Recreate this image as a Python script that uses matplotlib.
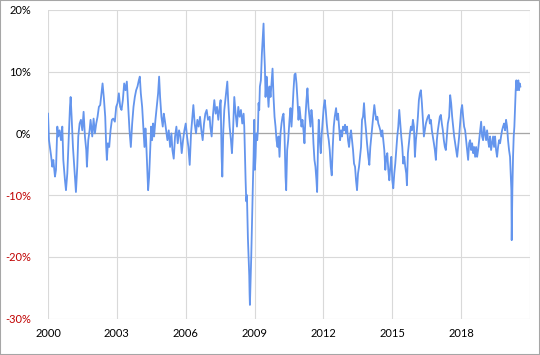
import matplotlib.pyplot as plt
from matplotlib.patches import Rectangle

# years since 2000 and the plotted percentage
t = [
    0.000, 0.043, 0.130, 0.188, 0.232, 0.304, 0.348, 0.406, 0.449, 0.507, 0.565, 0.623, 0.667, 0.739, 0.783, 0.841,
    0.899, 0.957, 0.986, 1.029, 1.087, 1.145, 1.217, 1.275, 1.319, 1.377, 1.435, 1.493, 1.551, 1.609, 1.667, 1.696,
    1.754, 1.812, 1.855, 1.928, 1.986, 2.043, 2.101, 2.159, 2.217, 2.275, 2.333, 2.377, 2.435, 2.493, 2.536, 2.565,
    2.609, 2.667, 2.725, 2.783, 2.841, 2.913, 2.971, 3.029, 3.087, 3.145, 3.203, 3.261, 3.319, 3.377, 3.435,
    3.493, 3.551, 3.609, 3.667, 3.725, 3.783, 3.841, 3.899, 3.957, 4.000, 4.044, 4.102, 4.160, 4.203, 4.246, 4.275,
    4.319, 4.362, 4.406, 4.449, 4.493, 4.536, 4.580, 4.623, 4.681, 4.739, 4.797, 4.841, 4.884, 4.942, 5.000, 5.044,
    5.087, 5.145, 5.203, 5.261, 5.319, 5.377, 5.420, 5.478, 5.536, 5.594, 5.652, 5.710, 5.768, 5.826, 5.884, 5.942,
    6.000, 6.058, 6.116, 6.174, 6.232, 6.290, 6.333, 6.391, 6.449, 6.507, 6.565, 6.623, 6.681, 6.739, 6.797, 6.855,
    6.913, 6.971, 7.043, 7.072, 7.130, 7.188, 7.246, 7.304, 7.362, 7.420, 7.478, 7.522, 7.565, 7.594, 7.638, 7.681,
    7.725, 7.768, 7.812, 7.855, 7.913, 7.971, 8.014, 8.058, 8.116, 8.174, 8.232, 8.290, 8.348, 8.406, 8.464, 8.522,
    8.551, 8.580, 8.609, 8.638, 8.667, 8.710, 8.739, 8.768, 8.783, 8.797, 8.826, 8.855, 8.884, 8.928, 8.957, 8.986,
    9.014, 9.043, 9.072, 9.116, 9.145, 9.174, 9.203, 9.232, 9.275, 9.319, 9.362, 9.391, 9.420, 9.449, 9.478, 9.522,
    9.565, 9.609, 9.652, 9.696, 9.739, 9.783, 9.826, 9.870, 9.913, 9.957, 10.000, 10.043, 10.087, 10.130, 10.174,
    10.217, 10.261, 10.304, 10.348, 10.377, 10.420, 10.464, 10.522, 10.565, 10.609, 10.652, 10.696, 10.739, 10.783,
    10.826, 10.870, 10.913, 10.957, 11.000, 11.043, 11.087, 11.130, 11.174, 11.217, 11.261, 11.304, 11.348, 11.391,
    11.435, 11.478, 11.522, 11.565, 11.609, 11.652, 11.696, 11.725, 11.768, 11.797, 11.841, 11.884, 11.928, 11.971,
    12.014, 12.058, 12.101, 12.145, 12.188, 12.232, 12.275, 12.319, 12.362, 12.406, 12.449, 12.493, 12.551, 12.594,
    12.638, 12.681, 12.725, 12.768, 12.812, 12.855, 12.899, 12.942, 12.986, 13.029, 13.072, 13.116, 13.159, 13.203,
    13.246, 13.290, 13.333, 13.377, 13.420, 13.464, 13.507, 13.551, 13.594, 13.638, 13.681, 13.725, 13.768, 13.812,
    13.855, 13.899, 13.942, 13.957, 14.000, 14.043, 14.087, 14.130, 14.174, 14.217, 14.261, 14.304, 14.348, 14.391,
    14.435, 14.478, 14.522, 14.565, 14.609, 14.652, 14.696, 14.739, 14.783, 14.826, 14.870, 14.913, 14.957, 15.000,
    15.043, 15.087, 15.130, 15.174, 15.217, 15.261, 15.304, 15.348, 15.391, 15.435, 15.478, 15.522, 15.565, 15.609,
    15.638, 15.681, 15.725, 15.768, 15.812, 15.855, 15.899, 15.942, 15.986, 16.029, 16.072, 16.116, 16.159, 16.203,
    16.246, 16.290, 16.333, 16.377, 16.420, 16.464, 16.507, 16.551, 16.594, 16.638, 16.681, 16.725, 16.768, 16.812,
    16.855, 16.899, 16.942, 16.986, 17.029, 17.072, 17.116, 17.159, 17.203, 17.246, 17.290, 17.333, 17.377, 17.420,
    17.478, 17.522, 17.565, 17.609, 17.652, 17.696, 17.739, 17.783, 17.826, 17.870, 17.913, 17.957, 18.000, 18.043,
    18.087, 18.130, 18.174, 18.217, 18.261, 18.304, 18.348, 18.391, 18.435, 18.478, 18.522, 18.565, 18.609, 18.652,
    18.696, 18.739, 18.783, 18.826, 18.870, 18.913, 18.957, 19.000, 19.043, 19.087, 19.130, 19.174, 19.217, 19.261,
    19.304, 19.348, 19.391, 19.435, 19.478, 19.522, 19.565, 19.609, 19.652, 19.696, 19.739, 19.783, 19.826, 19.870,
    19.913, 19.957, 20.000, 20.043, 20.087, 20.130, 20.159, 20.188, 20.203, 20.232, 20.261, 20.290, 20.319, 20.348,
    20.377, 20.406, 20.435, 20.464, 20.493, 20.522, 20.551, 20.580,
]
pct = [
    3.2, -1.1, -3.5, -5.4, -4.3, -7.0, -5.9, 1.1, -0.5, 0.5, -1.1, 1.1, -4.3, -7.6, -9.2, -6.5,
    -1.1, 4.3, 5.9, 2.7, -2.2, -5.4, -9.5, -5.4, -0.5, 1.6, 2.2, 0.5, 3.5, -0.5, -2.7, -5.4,
    -1.1, 0.5, 2.2, -0.5, 2.4, 0.0, 1.6, 2.7, 4.3, 4.6, 6.5, 8.1, 5.7, 2.7, -2.2, -4.3,
    -1.6, -2.2, 0.5, 2.2, 2.4, 1.9, 4.3, 4.9, 6.5, 4.3, 3.8, 5.4, 8.1, 7.0, 8.4,
    4.3, 0.5, -2.2, 1.6, 4.3, 5.9, 7.0, 7.6, 8.6, 9.2, 6.5, 4.3, 0.5, -2.2, 0.8, -1.1,
    -5.4, -9.2, -7.0, -3.2, 1.1, -1.1, 1.6, -0.5, 2.2, 4.3, 6.5, 9.2, 5.9, 2.7, 1.1, 3.2,
    2.2, 0.5, -1.1, 0.5, -2.2, 0.0, -2.7, -4.1, -0.5, 1.1, -1.6, 0.5, -0.5, -3.2, -1.1, 0.5,
    1.6, -0.5, -2.2, -5.1, 0.0, 2.7, 4.6, 1.6, 0.0, 2.2, 1.1, 2.7, 0.5, -1.1, 1.6, 3.2,
    3.8, 2.2, 2.7, 1.1, -0.5, 3.0, 5.4, 3.2, 4.3, 2.2, 4.3, 5.4, -3.8, -7.0, 0.5, 3.8,
    5.4, 7.0, 8.4, 4.9, 1.1, -1.1, -3.2, 0.0, 5.9, 3.2, 1.1, 4.3, 2.7, 3.8, 1.6, 3.2,
    1.1, -3.2, -7.6, -11.0, -10.0, -17.0, -20.0, -23.0, -26.0, -27.8, -24.0, -20.0, -15.0, -8.0, -3.8, 2.2,
    -5.9, -3.8, 0.0, -1.1, 0.5, 4.9, 3.8, 7.6, 8.6, 13.0, 15.7, 17.8, 13.5, 10.8, 5.9, 9.2,
    7.0, 4.3, 7.6, 5.9, 8.1, 10.5, 5.9, 2.7, 1.1, -1.1, -2.2, -0.5, -3.8, 0.0, 1.6,
    2.7, 3.2, 0.0, -7.0, -9.2, -2.7, -1.1, 2.2, 4.1, 1.1, 3.8, 7.0, 9.5, 9.7,
    8.1, 5.4, 2.2, 4.3, 2.7, 1.1, 2.2, 0.5, -1.6, 2.7, 5.4, 7.3, 4.3, 2.7,
    1.1, 3.8, 2.2, -1.6, -4.3, -5.4, -7.6, -9.5, -1.1, 2.2, -1.1, -3.2, 0.0, 2.2,
    4.3, 5.4, 3.8, 1.6, 0.0, -1.1, -2.7, -5.4, -6.8, -2.2, 1.1, 2.7, 4.1, 2.2,
    3.2, 1.1, -1.1, 0.5, -0.5, 1.1, 0.5, 1.4, 0.0, 1.1, -1.1, -2.2, -0.5, 0.5,
    -1.1, -2.7, -4.9, -5.4, -7.6, -9.2, -6.5, -5.4, -3.8, -2.2, 2.2, 2.7, 4.9, 2.2,
    0.5, -1.6, -3.2, -3.8, -5.1, -2.2, -0.5, 1.1, 2.7, 4.6, 3.2, 2.2, 2.7, 1.6,
    1.1, 0.5, -0.5, 0.5, -1.1, -2.7, -5.9, -3.8, -3.2, -5.9, -7.6, -5.4, -3.8, -7.6,
    -8.9, -6.5, -4.9, -2.7, -0.5, 1.1, 3.8, 1.6, -0.5, -2.2, -4.9, -3.8, -5.4, -6.5,
    -8.4, -3.2, -1.6, 0.0, 1.1, 0.5, 2.2, 1.1, -3.8, -1.1, 0.5, 2.7, 5.4, 6.5,
    7.0, 4.9, 2.2, -0.5, 0.5, 1.6, 2.2, 2.7, 3.0, 1.6, 2.2, 0.5, -0.5, -1.6,
    -2.7, -4.3, -1.1, 0.5, 1.6, 2.7, 3.0, 1.6, 0.5, -1.1, -2.2, -2.7, -0.5, 1.6,
    2.7, 6.2, 4.9, 2.7, 1.1, -0.5, -1.6, -2.7, -3.8, -2.2, -0.5, 1.6, 3.8, 4.6,
    2.7, 1.1, 0.5, -1.1, -2.7, -4.3, -1.6, -1.1, -2.7, -1.6, -3.2, -2.2, -3.8, -2.2,
    -3.8, -2.7, -1.1, 0.5, 1.9, -0.5, -1.1, 1.1, 0.0, -1.1, 0.5, -1.1, -2.2, -0.5,
    -2.7, -1.6, -0.5, -2.2, -0.5, -2.7, -3.8, -2.2, -1.1, -1.6, -0.5, 0.5, 1.1, 1.6,
    0.5, 2.2, 1.1, -1.1, -2.7, -3.8, -6.5, -9.2, -17.3, -9.2, -3.8, -0.5, 1.1, 4.3,
    7.0, 8.6, 7.0, 8.1, 8.6, 7.0, 8.1, 7.6,
]
year_ticks = [2000, 2003, 2006, 2009, 2012, 2015, 2018, 2021]
year_labels = ['2000', '2003', '2006', '2009', '2012', '2015', '2018', '']
pct_ticks = [-30, -20, -10, 0, 10, 20]

plt.rcParams['font.family'] = ['Lato', 'DejaVu Sans']

fig = plt.figure(figsize=(5.4, 3.55), dpi=100)
ax = fig.add_axes([48 / 540, 1 - 318.5 / 355, 482 / 540, 308.5 / 355])

ax.plot([2000 + v for v in t], pct, color='#6495ed', lw=1.3, zorder=3)

ax.set_xlim(2000, 2021)
ax.set_ylim(-30, 20)
ax.set_xticks(year_ticks)
ax.set_xticklabels(year_labels)
ax.set_yticks(pct_ticks)
ax.set_yticklabels([f'{v}%' for v in pct_ticks])
for lab, v in zip(ax.get_yticklabels(), pct_ticks):
    lab.set_color('#c00000' if v < 0 else 'black')

ax.tick_params(length=0, labelsize=8)
ax.tick_params(axis='y', pad=12)
ax.tick_params(axis='x', pad=7)
ax.grid(True, color='#d9d9d9', lw=0.8)
ax.axhline(0, color='#a6a6a6', lw=0.9, zorder=2)
for s in ax.spines.values():
    s.set_visible(False)

# thin frame around the whole picture
fig.patches.append(Rectangle((0, 0), 1, 1, transform=fig.transFigure, fill=False,
                             edgecolor='#a6a6a6', lw=1.5))

fig.savefig('out.png', dpi=100)
